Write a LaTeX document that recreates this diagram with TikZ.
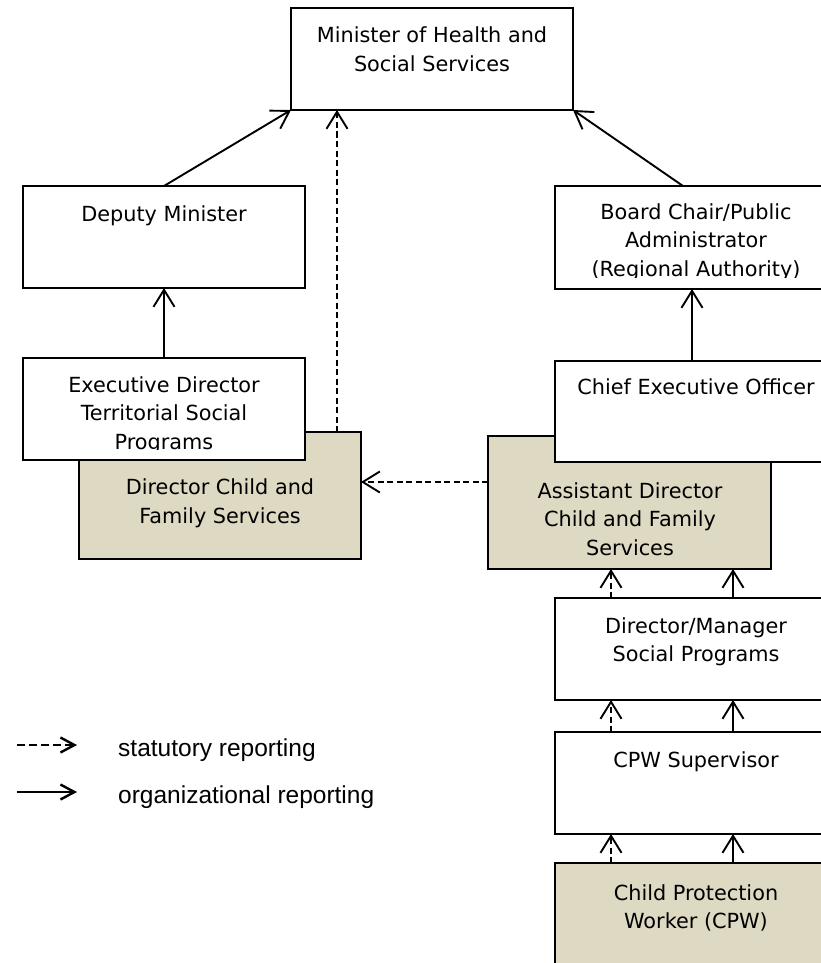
\documentclass[tikz,border=0pt]{standalone}
\usepackage{fontspec}
\setmainfont{DejaVu Sans}
\newfontfamily\legendfont{Liberation Sans}
\usetikzlibrary{arrows.meta}
\definecolor{tanfill}{HTML}{DDD9C3}
\tikzset{
  box/.style={draw, line width=1.9pt, fill=white, inner sep=0pt, outer sep=0pt, anchor=north west},
  tanbox/.style={box, fill=tanfill},
  btext/.style={anchor=base, inner sep=0pt, font=\fontsize{20.8}{28.5}\selectfont},
  ltext/.style={anchor=base west, inner sep=0pt, font=\legendfont\fontsize{24.5}{28}\selectfont},
  org/.style={line width=1.9pt, -{Straight Barb[length=17pt,width=21pt]}},
  stat/.style={org, dash pattern=on 6pt off 3.5pt},
  legorg/.style={line width=2.4pt, -{Straight Barb[length=14pt,width=15pt]}},
  legstat/.style={legorg, dash pattern=on 8pt off 4pt},
}
\begin{document}
\begin{tikzpicture}[x=1pt,y=-1pt]
\useasboundingbox (0,0) rectangle (820,963);

% boxes
\node[box, minimum width=282pt, minimum height=102pt] (min) at (291,8) {};
\node[box, minimum width=282pt, minimum height=102pt] (dep) at (23,186) {};
\node[tanbox, minimum width=282pt, minimum height=127pt] (dcfs) at (79,432) {};
\node[box, minimum width=282pt, minimum height=102pt] (exec) at (23,358) {};
\node[box, minimum width=282pt, minimum height=103pt] (board) at (555,186) {};
\node[tanbox, minimum width=283pt, minimum height=133pt] (asd) at (488,436) {};
\node[box, minimum width=282pt, minimum height=101pt] (ceo) at (555,361) {};
\node[box, minimum width=282pt, minimum height=102pt] (dm) at (555,598) {};
\node[box, minimum width=282pt, minimum height=102pt] (cpws) at (555,732) {};
\node[tanbox, minimum width=282pt, minimum height=115pt] (cpw) at (555,863) {};

% texts
\node[btext] (t1) at (432,43) {Minister of Health and};
\node[btext] (t2) at (432,71.5) {Social Services};
\node[btext] (t3) at (164,221) {Deputy Minister};
\begin{scope}
  \clip (23,358) rectangle (305,449);
  \node[btext] (t4) at (164,392) {Executive Director};
  \node[btext] (t5) at (164,420.5) {Territorial Social};
  \node[btext] (t6) at (164,449) {Programs};
\end{scope}
\node[btext] (t7) at (220,494.5) {Director Child and};
\node[btext] (t8) at (220,523) {Family Services};
\begin{scope}
  \clip (555,186) rectangle (820,277.5);
  \node[btext] (t9) at (696,219) {Board Chair/Public};
  \node[btext] (t10) at (696,247.5) {Administrator};
  \node[btext] (t11) at (696,276) {(Regional Authority)};
\end{scope}
\node[btext] (t12) at (696,394) {Chief Executive Officer};
\node[btext] (t13) at (630,498) {Assistant Director};
\node[btext] (t14) at (630,526.5) {Child and Family};
\node[btext] (t15) at (630,555) {Services};
\node[btext] (t16) at (696,633) {Director/Manager};
\node[btext] (t17) at (696,661.5) {Social Programs};
\node[btext] (t18) at (696,767) {CPW Supervisor};
\node[btext] (t19) at (696,900) {Child Protection};
\node[btext] (t20) at (696,928.5) {Worker (CPW)};

% connectors
\draw[org] (dep.north) -- (min.south west);
\draw[org] ([xshift=128pt]board.north west) -- (min.south east);
\draw[org] (exec.north) -- (dep.south);
\draw[stat] ([xshift=-24pt]dcfs.north east) -- ([xshift=-24pt]dcfs.north east |- min.south);
\draw[org] ([xshift=137pt]ceo.north west) -- ([xshift=137pt]ceo.north west |- board.south);
\coordinate (hy) at (0,482);
\draw[stat] (asd.west |- hy) -- (dcfs.east |- hy);
\draw[stat] ([xshift=56pt]dm.north west) -- ([xshift=56pt]dm.north west |- asd.south);
\draw[org] ([xshift=178pt]dm.north west) -- ([xshift=178pt]dm.north west |- asd.south);
\draw[stat] ([xshift=56pt]cpws.north west) -- ([xshift=56pt]cpws.north west |- dm.south);
\draw[org] ([xshift=178pt]cpws.north west) -- ([xshift=178pt]cpws.north west |- dm.south);
\draw[stat] ([xshift=56pt]cpw.north west) -- ([xshift=56pt]cpw.north west |- cpws.south);
\draw[org] ([xshift=178pt]cpw.north west) -- ([xshift=178pt]cpw.north west |- cpws.south);

% legend
\coordinate (ls1) at (17,745);
\coordinate (le1) at (77,745);
\coordinate (ls2) at (17,792);
\coordinate (le2) at (77,792);
\draw[legstat] (ls1) -- (le1);
\draw[legorg] (ls2) -- (le2);
\node[ltext] (l1) at (118,756) {statutory reporting};
\node[ltext] (l2) at (118,803) {organizational reporting};
\end{tikzpicture}
\end{document}
